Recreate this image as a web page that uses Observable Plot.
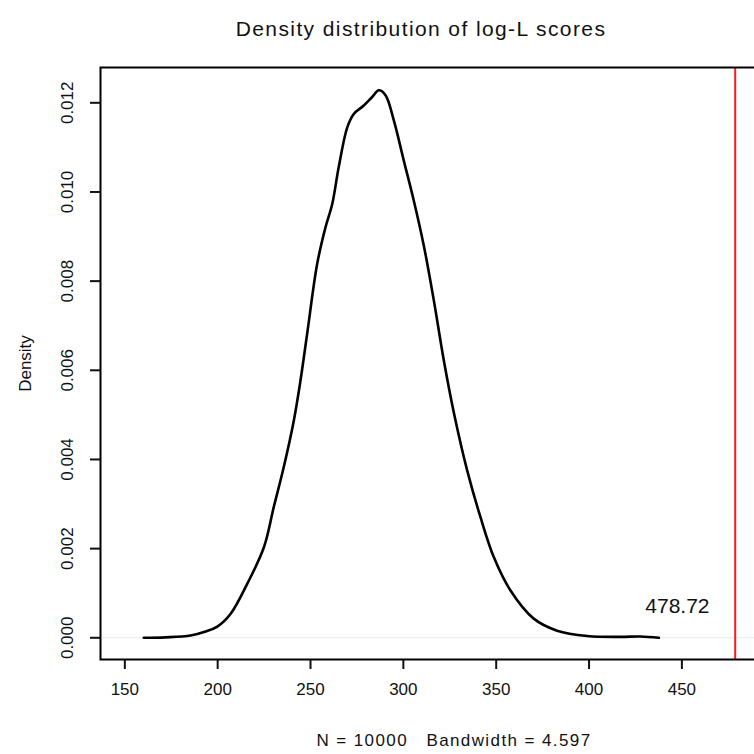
<!DOCTYPE html>
<html>
<head>
<meta charset="utf-8">
<script src="https://cdn.jsdelivr.net/npm/d3@7"></script>
<script src="https://cdn.jsdelivr.net/npm/@observablehq/plot@0.6"></script>
<style>
  html, body { margin: 0; padding: 0; background: #fff; }
  body { width: 754px; height: 754px; overflow: hidden; position: relative; font-family: "Liberation Sans", Arial, sans-serif; color: #111; }
  #chart { position: absolute; top: 0; left: 0; z-index: 0; }
  #title { position: absolute; z-index: 2; top: 17px; left: 421px; transform: translateX(-50%); font-size: 21px; letter-spacing: 1.4px; white-space: pre; line-height: 24px; }
  #caption { position: absolute; z-index: 2; top: 731px; left: 454px; transform: translateX(-50%); font-size: 17px; letter-spacing: 1.4px; white-space: pre; line-height: 20px; }
</style>
</head>
<body>
<div id="chart"></div>
<div id="title"></div>
<div id="caption"></div>
<script>
// Chart texts
const titleText = "Density distribution of log-L scores";
const captionText = "N = 10000   Bandwidth = 4.597";
const yLabel = "Density";

// Density curve
const scoreX = [160.2, 171.9, 185.4, 193.5, 199.8, 207.0, 215.9, 224.9, 230.2, 235.6,
                241.0, 244.6, 248.2, 253.6, 258.1, 261.7, 265.2, 269.8, 273.3, 278.7,
                283.2, 286.8, 290.4, 294.9, 300.2, 305.6, 311.0, 316.4, 321.8, 327.2,
                334.4, 341.5, 348.7, 357.7, 370.2, 382.8, 399.0, 416.9, 427.7, 437.6];
const densityY = [0.00000, 0.00001, 0.00005, 0.00014, 0.00025, 0.00054, 0.00121, 0.00203, 0.00293, 0.00383,
                  0.00487, 0.00577, 0.00682, 0.00839, 0.00921, 0.00973, 0.01056, 0.01145, 0.01175, 0.01194,
                  0.01213, 0.01228, 0.01217, 0.01160, 0.01071, 0.00981, 0.00880, 0.00757, 0.00622, 0.00505,
                  0.00375, 0.00271, 0.00181, 0.00106, 0.00043, 0.00016, 0.00004, 0.00002, 0.00003, 0.00000];

// Observed score marker
const observedScore = [478.72];
const observedLabel = ["478.72"];
const labelPos = {x: [447.6], y: [0.0007]};

// Axis ticks
const xTicks = [150, 200, 250, 300, 350, 400, 450];
const yTicks = [0.000, 0.002, 0.004, 0.006, 0.008, 0.010, 0.012];

const curve = scoreX.map((x, i) => ({x, y: densityY[i]}));
const labelData = observedLabel.map((t, i) => ({t, x: labelPos.x[i], y: labelPos.y[i]}));

document.getElementById("title").textContent = titleText;
document.getElementById("caption").textContent = captionText;

const chart = Plot.plot({
  width: 760,
  height: 720,
  marginTop: 67,
  marginBottom: 61,
  marginLeft: 100,
  marginRight: 1,
  style: {fontFamily: "Liberation Sans, Arial, sans-serif", fontSize: "16px", color: "#111", background: "transparent", overflow: "visible", maxWidth: "none"},
  x: {domain: [136.9, 491.8], ticks: xTicks},
  y: {domain: [-0.000487, 0.012792], ticks: yTicks},
  marks: [
    Plot.ruleY([0], {stroke: "#e8e8e8", strokeWidth: 1}),
    Plot.line(curve, {x: "x", y: "y", stroke: "black", strokeWidth: 2.6, curve: "catmull-rom"}),
    Plot.ruleX(observedScore, {stroke: "#ff1a1a", strokeWidth: 2}),
    Plot.text(labelData, {x: "x", y: "y", text: "t", fontSize: 21, fill: "#111", style: "letter-spacing:1.2px"}),
    Plot.axisX({ticks: xTicks, tickSize: 10, tickPadding: 13, strokeWidth: 2, label: null, fontSize: 17, tickFormat: d => String(d)}),
    Plot.axisY({ticks: yTicks, tickSize: 10, tickPadding: 18, strokeWidth: 2, tickRotate: -90, fontSize: 17, tickFormat: d => d.toFixed(3), label: yLabel, labelAnchor: "center", labelArrow: "none", labelOffset: 82}),
    Plot.frame({stroke: "black", strokeWidth: 2})
  ]
});
chart.style.maxWidth = "none";
document.getElementById("chart").appendChild(chart);
</script>
</body>
</html>
